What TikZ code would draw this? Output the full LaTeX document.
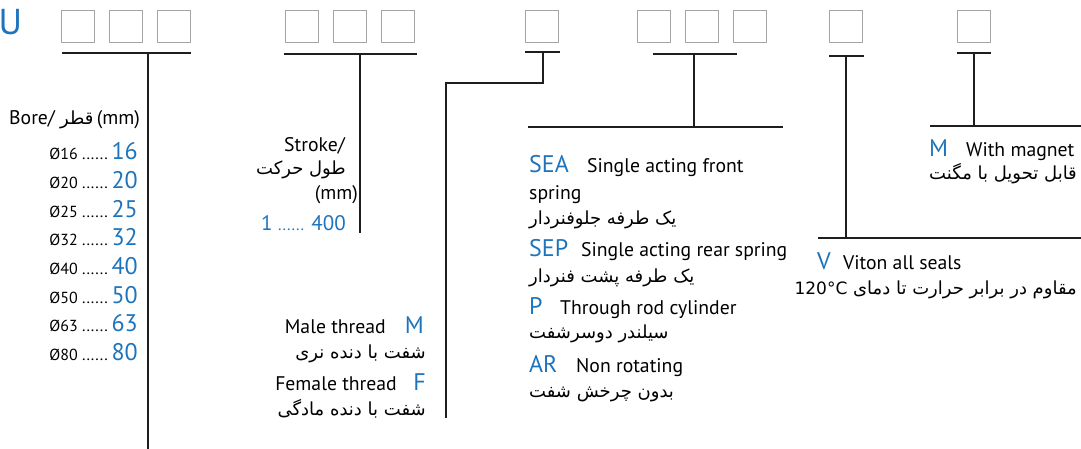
\documentclass[tikz,border=0pt]{standalone}
\usepackage{fontspec}
\setmainfont{PT Sans}
\newfontfamily\fa[Script=Arabic]{DejaVu Sans}
\TeXXeTstate=1
\definecolor{codeblue}{RGB}{30,116,188}
\definecolor{boxgray}{RGB}{165,165,165}
\definecolor{leadcol}{RGB}{30,30,30}
\begin{document}
\begin{tikzpicture}[x=1pt,y=-1pt,
  cbox/.style={draw=boxgray, line width=1.2pt, minimum width=33pt, minimum height=32pt, inner sep=0pt, anchor=north west},
  lead/.style={draw=leadcol, line width=2pt},
  code/.style={inner sep=0pt, text=codeblue, font=\fontsize{24}{27}\selectfont},
  lbl/.style={inner sep=0pt, font=\fontsize{19.7}{22}\selectfont},
  small/.style={inner sep=0pt, font=\fontsize{16}{18}\selectfont},
  fatxt/.style={inner sep=0pt, font=\fa\fontsize{18}{21}\selectfont}
]
\useasboundingbox (0,0) rectangle (1081,449);
% prefix
\node[code, font=\fontsize{36}{40}\selectfont, anchor=base west] (U) at (-1.5,35) {U};
% boxes
\node[cbox] (b1) at (61,10) {};
\node[cbox] (b2) at (109,10) {};
\node[cbox] (b3) at (157,10) {};
\node[cbox] (b4) at (285,10) {};
\node[cbox] (b5) at (333,10) {};
\node[cbox] (b6) at (381,10) {};
\node[cbox] (b7) at (525,10) {};
\node[cbox] (b8) at (637,10) {};
\node[cbox] (b9) at (685,10) {};
\node[cbox] (b10) at (733,10) {};
\node[cbox] (b11) at (829,10) {};
\node[cbox] (b12) at (957,10) {};
% group 1: bore
\coordinate (g1l) at (62,53); \coordinate (g1r) at (191,53);
\coordinate (g1t) at (148,53); \coordinate (g1b) at (148,449);
\draw[lead] (g1l) -- (g1r);
\draw[lead] (g1t) -- (g1b);
% group 2: stroke
\coordinate (g2l) at (284,54); \coordinate (g2r) at (417,54);
\coordinate (g2t) at (360,54); \coordinate (g2b) at (360,233);
\draw[lead] (g2l) -- (g2r);
\draw[lead] (g2t) -- (g2b);
% group 3: thread
\coordinate (g3l) at (525,52); \coordinate (g3r) at (560,52);
\coordinate (g3t) at (543,52); \coordinate (g3k) at (543,83);
\coordinate (g3m) at (446,83); \coordinate (g3b) at (446,418);
\draw[lead] (g3l) -- (g3r);
\draw[lead] (g3t) -- (g3k) -- (g3m) -- (g3b);
% group 4: type
\coordinate (g4l) at (653,54); \coordinate (g4r) at (737,54);
\coordinate (g4t) at (694,54); \coordinate (g4b) at (694,127);
\coordinate (g4hl) at (528,127); \coordinate (g4hr) at (783,127);
\draw[lead] (g4l) -- (g4r);
\draw[lead] (g4t) -- (g4b);
\draw[lead] (g4hl) -- (g4hr);
% group 5: seals
\coordinate (g5l) at (829,56); \coordinate (g5r) at (864,56);
\coordinate (g5t) at (846,56); \coordinate (g5b) at (846,238);
\coordinate (g5hl) at (818,238); \coordinate (g5hr) at (1081,238);
\draw[lead] (g5l) -- (g5r);
\draw[lead] (g5t) -- (g5b);
\draw[lead] (g5hl) -- (g5hr);
% group 6: magnet
\coordinate (g6l) at (957,53); \coordinate (g6r) at (991,53);
\coordinate (g6t) at (974,53); \coordinate (g6b) at (974,126);
\coordinate (g6hl) at (930,126); \coordinate (g6hr) at (1081,126);
\draw[lead] (g6l) -- (g6r);
\draw[lead] (g6t) -- (g6b);
\draw[lead] (g6hl) -- (g6hr);
% bore texts
\node[lbl, anchor=base east] (bore) at (140,125) {Bore/ {\fa\fontsize{18}{21}\selectfont\beginR قطر\endR}\,(mm)};
\foreach \v [count=\i from 0] in {16,20,25,32,40,50,63,80} {
  \node[code, anchor=base east] (bn\v) at (138,{160+28.6*\i}) {\v};
  \node[small, anchor=base east] (bd\v) at (108,{160+28.6*\i}) {Ø\v\ ......};
}
% stroke texts
\node[lbl, anchor=base east] (stroke) at (345,152) {Stroke/};
\node[fatxt, anchor=base east] (strokefa) at (346,175) {\beginR طول حرکت\endR};
\node[lbl, anchor=base east] (strokemm) at (358,200) {(mm)};
\node[code, font=\fontsize{21}{24}\selectfont, anchor=base east] (strokev) at (346,230) {1 {\fontsize{16}{18}\selectfont......} 400};
% thread texts
\node[code, anchor=base east] (cM) at (424,333) {M};
\node[lbl, anchor=base east] (male) at (386,333) {Male thread};
\node[fatxt, anchor=base east] (malefa) at (426,358) {\beginR شفت با دنده نری\endR};
\node[code, anchor=base east] (cF) at (426,390) {F};
\node[lbl, anchor=base east] (female) at (397,390) {Female thread};
\node[fatxt, anchor=base east] (femalefa) at (426,415) {\beginR شفت با دنده مادگی\endR};
% type texts
\node[code, anchor=base west] (cSEA) at (529,173) {SEA};
\node[lbl, anchor=base west] (sea) at (587,173) {Single acting front};
\node[lbl, anchor=base west] (sea2) at (529,200) {spring};
\node[fatxt, anchor=base west] (seafa) at (529,225) {\beginR یک طرفه جلوفنردار\endR};
\node[code, anchor=base west] (cSEP) at (529,256) {SEP};
\node[lbl, anchor=base west] (sep) at (581,256) {Single acting rear spring};
\node[fatxt, anchor=base west] (sepfa) at (529,282) {\beginR یک طرفه پشت فنردار\endR};
\node[code, anchor=base west] (cP) at (529,314) {P};
\node[lbl, anchor=base west] (p) at (560,314) {Through rod cylinder};
\node[fatxt, anchor=base west] (pfa) at (529,338) {\beginR سیلندر دوسرشفت\endR};
\node[code, anchor=base west] (cAR) at (529,372) {AR};
\node[lbl, anchor=base west] (ar) at (576,372) {Non rotating};
\node[fatxt, anchor=base west] (arfa) at (529,397) {\beginR بدون چرخش شفت\endR};
% magnet texts
\node[code, anchor=base west] (cMag) at (929,157) {M};
\node[lbl, anchor=base west] (mag) at (966,157) {With magnet};
\node[fatxt, anchor=base west] (magfa) at (929,180) {\beginR قابل تحویل با مگنت\endR};
% seal texts
\node[code, anchor=base west] (cV) at (817,269) {V};
\node[lbl, anchor=base west] (viton) at (843,269) {Viton all seals};
\node[fatxt, anchor=base east] (vitonfa) at (1077,294) {\beginR مقاوم در برابر حرارت تا دمای {\fontsize{17}{20}\selectfont\beginL 120°C\endL}\endR};
\end{tikzpicture}
\end{document}
